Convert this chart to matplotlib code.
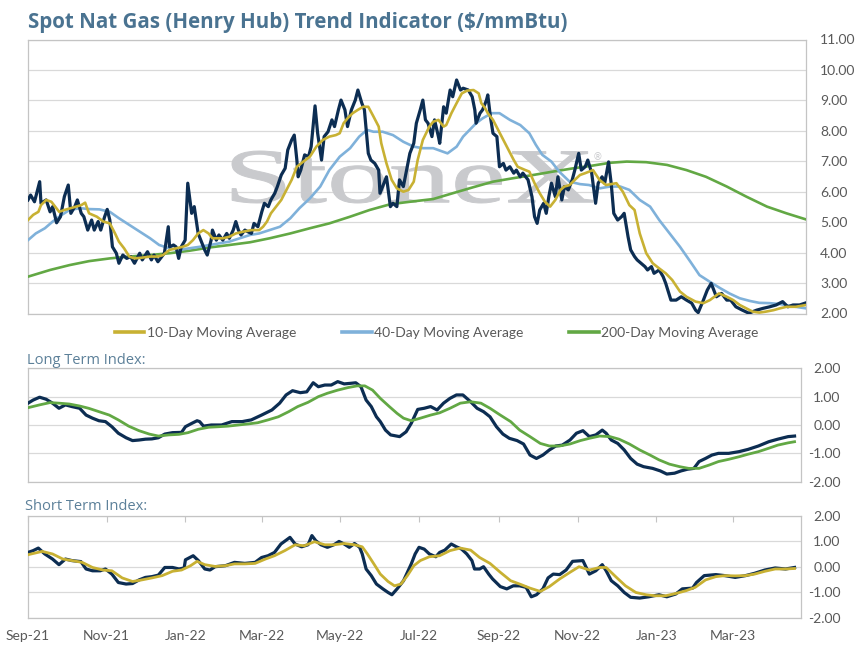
import numpy as np
import pandas as pd
import matplotlib
matplotlib.use("Agg")
import matplotlib.pyplot as plt
import matplotlib.dates as mdates
from matplotlib.textpath import TextPath
from matplotlib.patches import PathPatch
from matplotlib.font_manager import FontProperties
from matplotlib.transforms import Affine2D
from matplotlib.lines import Line2D

# ---- data (day = days after 1 Sep 2021) ----
START = pd.Timestamp("2021-09-01")
LAST_DAY = 599

spot_day = [0, 2, 5, 9, 10, 14, 17, 19, 22, 25,
            28, 31, 33, 36, 38, 41, 43, 46, 49, 51,
            54, 56, 59, 61, 63, 65, 68, 70, 73, 76,
            79, 82, 86, 88, 92, 95, 97, 100, 103, 105,
            108, 109, 112, 114, 116, 118, 121, 123, 126, 128,
            131, 133, 136, 138, 141, 142, 145, 147, 150, 153,
            155, 158, 160, 162, 164, 167, 169, 172, 174, 177,
            180, 182, 185, 187, 190, 192, 195, 198, 200, 203,
            205, 207, 208, 210, 213, 216, 218, 221, 223, 226,
            228, 231, 234, 236, 239, 241, 244, 246, 249, 252,
            254, 257, 259, 262, 264, 267, 270, 271, 273, 276,
            279, 281, 284, 286, 289, 291, 294, 297, 299, 302,
            304, 306, 308, 311, 313, 316, 317, 320, 322, 325,
            327, 330, 333, 335, 339, 342, 344, 345, 348, 350,
            353, 354, 356, 358, 361, 363, 366, 368, 371, 374,
            376, 379, 381, 385, 388, 390, 392, 394, 397, 399,
            401, 403, 406, 408, 411, 413, 416, 419, 421, 424,
            426, 429, 431, 434, 437, 439, 442, 444, 447, 449,
            451, 454, 457, 459, 462, 464, 467, 469, 472, 475,
            477, 480, 482, 486, 489, 491, 495, 499, 503, 507,
            511, 514, 516, 520, 523, 526, 530, 534, 538, 541,
            545, 550, 555, 561, 566, 571, 576, 581, 585, 589, 594, 599]
spot_val = [5.73, 5.89, 5.67, 6.33, 5.62, 5.73, 5.34, 5.51, 4.98, 5.18,
            5.84, 6.22, 5.29, 5.51, 5.73, 5.29, 5.18, 4.74, 5.07, 4.74,
            5.02, 4.74, 5.18, 5.42, 5.07, 4.19, 3.98, 3.65, 3.92, 3.81,
            3.87, 3.65, 3.98, 3.76, 4.03, 3.76, 3.92, 3.70, 3.87, 3.98,
            4.85, 4.19, 4.25, 4.19, 3.81, 4.19, 4.41, 6.28, 5.29, 5.51,
            4.63, 4.41, 4.09, 3.92, 4.41, 4.74, 4.41, 4.58, 4.41, 4.63,
            4.47, 4.74, 5.02, 4.74, 4.58, 4.74, 4.69, 4.63, 4.96, 4.85,
            5.34, 5.62, 5.51, 5.73, 5.95, 6.17, 6.55, 6.77, 7.37, 7.70,
            7.86, 7.04, 6.49, 6.71, 7.21, 7.15, 7.48, 8.82, 7.92, 7.04,
            7.81, 7.97, 8.36, 8.14, 8.69, 9.01, 8.69, 8.14, 8.69, 9.01,
            9.34, 8.91, 8.69, 7.26, 7.04, 6.93, 6.71, 5.95, 6.17, 6.49,
            5.51, 5.62, 5.51, 6.39, 6.17, 6.61, 7.26, 7.59, 8.25, 8.69,
            9.01, 8.36, 8.25, 7.81, 8.36, 7.81, 7.59, 8.79, 8.58, 9.34,
            9.12, 9.67, 9.34, 9.40, 9.34, 9.12, 8.69, 8.25, 8.58, 8.69,
            9.01, 9.18, 8.47, 7.92, 7.81, 6.82, 6.93, 6.71, 6.82, 6.61,
            6.71, 6.49, 6.61, 6.39, 5.84, 5.18, 4.96, 5.40, 5.62, 5.29,
            5.84, 6.28, 5.84, 6.49, 5.73, 6.17, 6.06, 6.39, 6.71, 7.26,
            6.71, 6.82, 7.04, 6.61, 5.62, 6.28, 6.49, 6.28, 6.98, 6.28,
            5.29, 5.07, 5.18, 5.29, 4.52, 4.09, 3.87, 3.76, 3.65, 3.54,
            3.43, 3.54, 3.32, 3.43, 3.21, 2.99, 2.44, 2.44, 2.55, 2.44,
            2.34, 2.11, 2.03, 2.44, 2.77, 2.99, 2.55, 2.66, 2.44, 2.44,
            2.22, 2.11, 2.01, 2.11, 2.17, 2.22, 2.28, 2.39, 2.22, 2.28, 2.28, 2.35]

ma10_day = [0, 4, 8, 10, 14, 18, 20, 24, 28, 33,
            37, 41, 44, 47, 53, 58, 63, 67, 70, 74,
            78, 82, 87, 94, 100, 104, 109, 114, 119, 123,
            127, 131, 135, 139, 142, 146, 150, 155, 160, 166,
            172, 178, 181, 184, 187, 191, 195, 199, 203, 207,
            212, 217, 222, 227, 232, 237, 240, 243, 246, 250,
            254, 258, 262, 266, 270, 272, 276, 280, 284, 289,
            293, 297, 300, 304, 309, 312, 316, 320, 322, 326,
            330, 334, 338, 343, 347, 349, 352, 354, 358, 362,
            366, 370, 374, 377, 383, 386, 390, 394, 398, 402,
            406, 410, 413, 417, 421, 425, 429, 435, 440, 445,
            453, 458, 463, 467, 471, 476, 481, 486, 491, 496,
            502, 507, 514, 520, 525, 532, 538, 543, 548, 553,
            558, 563, 568, 574, 579, 584, 591, 599]
ma10_val = [5.07, 5.24, 5.34, 5.56, 5.73, 5.67, 5.56, 5.34, 5.40, 5.46,
            5.51, 5.56, 5.64, 5.29, 5.18, 5.02, 4.96, 4.63, 4.36, 4.14,
            3.87, 3.81, 3.83, 3.87, 3.87, 3.92, 4.09, 4.14, 4.19, 4.25,
            4.41, 4.63, 4.74, 4.63, 4.47, 4.47, 4.47, 4.52, 4.63, 4.69,
            4.74, 4.74, 4.85, 5.02, 5.29, 5.51, 5.73, 6.06, 6.39, 6.82,
            6.99, 7.15, 7.48, 7.70, 7.81, 7.86, 7.92, 8.25, 8.41, 8.58,
            8.69, 8.79, 8.79, 8.47, 8.14, 7.59, 6.93, 6.39, 6.11, 6.00,
            6.06, 6.33, 7.04, 7.70, 8.14, 8.30, 8.36, 8.14, 8.19, 8.58,
            8.91, 9.23, 9.32, 9.34, 9.23, 8.91, 8.74, 8.58, 8.36, 8.03,
            7.70, 7.37, 7.04, 6.82, 6.71, 6.66, 6.28, 5.95, 5.67, 5.51,
            5.73, 6.06, 6.17, 6.22, 6.39, 6.55, 6.61, 6.71, 6.39, 6.22,
            6.28, 6.00, 5.56, 5.40, 4.63, 3.98, 3.65, 3.48, 3.32, 3.10,
            2.72, 2.55, 2.39, 2.34, 2.44, 2.66, 2.55, 2.44, 2.28, 2.17,
            2.06, 2.03, 2.06, 2.11, 2.17, 2.22, 2.22, 2.28]

ma40_day = [0, 6, 13, 19, 26, 32, 40, 47, 55, 63,
            70, 78, 86, 94, 101, 109, 117, 124, 132, 140,
            148, 155, 163, 171, 178, 186, 194, 202, 209, 217,
            225, 232, 240, 248, 255, 261, 266, 273, 281, 289,
            297, 304, 312, 323, 330, 335, 340, 345, 350, 357,
            363, 371, 379, 386, 391, 396, 403, 409, 417, 425,
            432, 440, 448, 456, 463, 471, 479, 486, 494, 502,
            510, 517, 525, 533, 540, 548, 556, 563, 571, 579,
            587, 594, 599]
ma40_val = [4.41, 4.63, 4.80, 5.02, 5.24, 5.40, 5.46, 5.43, 5.42, 5.34,
            5.13, 4.91, 4.69, 4.47, 4.25, 4.14, 4.09, 4.14, 4.19, 4.25,
            4.31, 4.36, 4.47, 4.58, 4.63, 4.74, 4.85, 5.13, 5.46, 5.78,
            6.17, 6.71, 7.15, 7.43, 7.81, 8.03, 7.97, 7.97, 7.86, 7.64,
            7.48, 7.43, 7.43, 7.26, 7.48, 7.81, 8.03, 8.25, 8.41, 8.58,
            8.58, 8.36, 8.19, 7.92, 7.54, 7.21, 6.99, 6.66, 6.33, 6.25,
            6.22, 6.11, 6.17, 6.17, 6.06, 5.73, 5.51, 5.07, 4.63, 4.19,
            3.70, 3.26, 3.04, 2.83, 2.66, 2.50, 2.41, 2.35, 2.34, 2.31,
            2.25, 2.20, 2.17]

ma200_day = [0, 17, 32, 47, 63, 78, 94, 109, 124, 140,
             155, 171, 186, 202, 217, 232, 248, 263, 279, 294,
             312, 327, 343, 358, 373, 389, 404, 420, 435, 448,
             461, 476, 492, 507, 522, 538, 553, 569, 584, 599]
ma200_val = [3.21, 3.43, 3.59, 3.72, 3.81, 3.87, 3.92, 3.98, 4.06, 4.17,
             4.25, 4.34, 4.47, 4.63, 4.80, 4.96, 5.18, 5.40, 5.59, 5.67,
             5.76, 5.95, 6.15, 6.33, 6.44, 6.55, 6.66, 6.77, 6.86, 6.95,
             6.99, 6.97, 6.88, 6.71, 6.49, 6.17, 5.84, 5.51, 5.29, 5.09]

# long term index
lt_day = [0, 4, 9, 14, 19, 24, 29, 34, 40, 45,
          50, 55, 60, 65, 70, 76, 81, 86, 91, 96,
          101, 106, 112, 119, 122, 127, 131, 133, 136, 142,
          150, 158, 166, 173, 181, 189, 195, 200, 205, 211,
          216, 221, 225, 230, 235, 240, 245, 250, 254, 258,
          262, 266, 270, 273, 277, 281, 288, 293, 297, 302,
          307, 312, 317, 322, 327, 332, 337, 343, 348, 353,
          358, 363, 368, 373, 379, 384, 389, 394, 399, 404,
          409, 414, 420, 425, 430, 435, 440, 445, 448, 452,
          457, 462, 467, 472, 477, 484, 490, 495, 501, 506,
          511, 516, 520, 525, 530, 535, 543, 551, 558, 566,
          574, 581, 589, 594]
lt_val = [0.77, 0.88, 0.98, 0.91, 0.77, 0.59, 0.71, 0.65, 0.59, 0.35,
          0.24, 0.15, 0.12, -0.06, -0.29, -0.45, -0.55, -0.53, -0.50, -0.49,
          -0.45, -0.32, -0.27, -0.26, -0.06, 0.06, 0.15, 0.12, -0.04, 0.00,
          0.00, 0.12, 0.12, 0.18, 0.35, 0.53, 0.77, 1.06, 1.21, 1.14,
          1.17, 1.49, 1.35, 1.41, 1.41, 1.53, 1.45, 1.47, 1.49, 1.35,
          0.88, 0.65, 0.29, 0.12, -0.18, -0.35, -0.41, -0.24, 0.06, 0.55,
          0.59, 0.65, 0.53, 0.77, 0.94, 1.06, 1.06, 0.82, 0.59, 0.47,
          0.29, -0.06, -0.32, -0.47, -0.55, -0.67, -1.06, -1.18, -1.06, -0.88,
          -0.74, -0.71, -0.53, -0.29, -0.20, -0.41, -0.35, -0.18, -0.29, -0.53,
          -0.65, -0.88, -1.18, -1.38, -1.47, -1.53, -1.62, -1.73, -1.70, -1.62,
          -1.56, -1.53, -1.29, -1.18, -1.06, -1.00, -1.00, -0.94, -0.86, -0.74,
          -0.59, -0.50, -0.41, -0.39]
lt_sig_day = [0, 9, 17, 24, 32, 40, 47, 55, 63, 70,
              78, 86, 94, 101, 109, 117, 124, 132, 140, 148,
              155, 163, 171, 178, 186, 194, 202, 209, 217, 225,
              232, 240, 248, 255, 261, 267, 273, 280, 286, 291,
              297, 304, 312, 319, 327, 335, 343, 351, 358, 366,
              374, 381, 389, 397, 404, 412, 420, 428, 435, 443,
              451, 458, 466, 474, 482, 489, 497, 505, 512, 520,
              528, 535, 543, 551, 558, 566, 574, 581, 589, 594]
lt_sig_val = [0.61, 0.71, 0.79, 0.77, 0.74, 0.67, 0.59, 0.47, 0.35, 0.18,
              -0.04, -0.20, -0.32, -0.39, -0.35, -0.33, -0.27, -0.15, -0.08, -0.06,
              -0.04, 0.00, 0.04, 0.08, 0.18, 0.29, 0.47, 0.65, 0.80, 1.00,
              1.12, 1.23, 1.32, 1.38, 1.38, 1.23, 0.94, 0.65, 0.41, 0.24,
              0.15, 0.24, 0.35, 0.43, 0.59, 0.77, 0.82, 0.77, 0.59, 0.35,
              0.12, -0.18, -0.41, -0.65, -0.74, -0.74, -0.67, -0.55, -0.47, -0.39,
              -0.41, -0.50, -0.67, -0.88, -1.06, -1.23, -1.38, -1.47, -1.53, -1.53,
              -1.41, -1.29, -1.21, -1.12, -1.03, -0.94, -0.82, -0.71, -0.63, -0.59]

# short term index
st_day = [0, 4, 8, 13, 19, 24, 29, 34, 41, 45,
          50, 56, 60, 65, 70, 76, 81, 86, 91, 96,
          101, 106, 112, 117, 121, 122, 128, 132, 137, 141,
          145, 153, 160, 168, 176, 181, 186, 191, 196, 203,
          207, 212, 217, 220, 223, 227, 232, 237, 241, 245,
          249, 253, 257, 259, 262, 266, 270, 275, 279, 282,
          286, 291, 297, 300, 303, 307, 311, 316, 319, 323,
          328, 332, 336, 340, 344, 346, 350, 353, 357, 360,
          366, 371, 376, 381, 386, 390, 394, 399, 403, 407,
          412, 417, 422, 430, 435, 440, 445, 448, 452, 457,
          462, 467, 474, 481, 489, 495, 502, 507, 515, 518,
          524, 533, 540, 548, 556, 563, 571, 579, 587, 594]
st_val = [0.56, 0.63, 0.73, 0.50, 0.30, 0.08, 0.30, 0.24, 0.20, -0.09,
          -0.16, -0.16, -0.09, -0.29, -0.62, -0.68, -0.66, -0.52, -0.42, -0.39,
          -0.33, -0.03, -0.03, -0.09, -0.05, 0.27, 0.43, 0.24, -0.09, -0.13,
          0.00, 0.04, 0.17, 0.13, 0.17, 0.36, 0.43, 0.56, 0.89, 1.15,
          0.89, 0.78, 0.86, 1.22, 1.02, 0.86, 0.76, 0.86, 0.99, 0.89,
          0.76, 0.91, 0.76, 0.50, -0.09, -0.35, -0.68, -0.87, -1.01, -1.10,
          -0.87, -0.55, 0.11, 0.50, 0.76, 0.69, 0.50, 0.39, 0.56, 0.65,
          0.89, 0.78, 0.69, 0.50, 0.24, -0.09, -0.09, 0.00, -0.29, -0.48,
          -0.78, -0.87, -0.75, -0.75, -0.81, -1.18, -1.10, -0.87, -0.44, -0.29,
          -0.31, -0.13, 0.21, 0.24, -0.29, -0.16, 0.08, -0.16, -0.55, -0.75,
          -1.01, -1.20, -1.23, -1.18, -1.10, -1.18, -1.07, -0.87, -0.84, -0.62,
          -0.35, -0.31, -0.35, -0.42, -0.35, -0.26, -0.13, -0.05, -0.09, -0.03]
st_sig_day = [0, 11, 19, 27, 34, 42, 50, 58, 65, 73,
              81, 88, 96, 104, 112, 119, 126, 131, 137, 145,
              153, 160, 168, 176, 184, 191, 199, 207, 214, 222,
              230, 237, 245, 253, 259, 263, 268, 273, 279, 284,
              289, 294, 299, 304, 311, 319, 327, 335, 343, 350,
              358, 366, 374, 381, 389, 397, 404, 412, 420, 427,
              435, 443, 448, 456, 463, 471, 479, 486, 494, 502,
              510, 517, 525, 533, 540, 548, 556, 563, 571, 579,
              587, 594]
st_sig_val = [0.47, 0.60, 0.50, 0.30, 0.24, 0.17, -0.03, -0.13, -0.16, -0.44,
              -0.58, -0.52, -0.44, -0.35, -0.18, -0.13, 0.04, 0.21, 0.08, 0.01,
              0.04, 0.11, 0.11, 0.13, 0.30, 0.43, 0.63, 0.86, 0.82, 0.98,
              0.86, 0.86, 0.91, 0.86, 0.78, 0.50, 0.11, -0.29, -0.58, -0.75,
              -0.68, -0.35, 0.04, 0.24, 0.39, 0.43, 0.63, 0.73, 0.65, 0.36,
              0.13, -0.22, -0.55, -0.68, -0.84, -0.97, -0.78, -0.48, -0.22, 0.00,
              -0.13, -0.03, -0.03, -0.42, -0.75, -1.01, -1.10, -1.14, -1.14, -1.05,
              -0.94, -0.81, -0.52, -0.39, -0.35, -0.36, -0.35, -0.29, -0.18, -0.09,
              -0.09, -0.07]

legend_labels = ["10-Day Moving Average", "40-Day Moving Average", "200-Day Moving Average"]

# ---- style ----
NAVY = "#0c2d52"
GOLD = "#c8b133"
BLUE = "#7fb1da"
GREEN = "#62a844"
GRID = "#d9d9d9"
FRAME = "#c4c4c4"
TICK = "#595959"
TITLE = "#4a7391"
SUB = "#5c8099"

plt.rcParams["font.family"] = ["Lato", "DejaVu Sans"]
plt.rcParams["axes.unicode_minus"] = False


def dates(days):
    return START + pd.to_timedelta(np.asarray(days), unit="D")


def style_axes(ax, lo, hi, right_align):
    ax.set_ylim(lo, hi)
    ax.set_yticks(np.arange(lo, hi + 0.5, 1))
    ax.yaxis.set_major_formatter(plt.FuncFormatter(lambda v, p: f"{v:.2f}"))
    ax.yaxis.tick_right()
    ax.grid(axis="y", color=GRID, lw=0.9)
    ax.set_axisbelow(True)
    for s in ax.spines.values():
        s.set_color(FRAME)
        s.set_linewidth(0.9)
    ax.set_xlim(START, START + pd.Timedelta(days=LAST_DAY))
    ax.xaxis.set_major_locator(mdates.MonthLocator(bymonth=(1, 3, 5, 7, 9, 11)))
    ax.xaxis.set_major_formatter(mdates.DateFormatter("%b-%y"))
    if right_align:
        ax.tick_params(axis="y", length=0, pad=28.5, labelsize=10, labelcolor=TICK)
        for lab in ax.get_yticklabels():
            lab.set_horizontalalignment("right")
    else:
        ax.tick_params(axis="y", length=0, pad=10, labelsize=10, labelcolor=TICK)


fig = plt.figure(figsize=(8.66, 6.48), dpi=100)
ax1 = fig.add_axes([28 / 866, 1 - 313.5 / 648, 778 / 866, 274 / 648])
ax2 = fig.add_axes([28 / 866, 1 - 481.7 / 648, 773 / 866, 113.4 / 648])
ax3 = fig.add_axes([28 / 866, 1 - 617.7 / 648, 773 / 866, 102 / 648])

# top panel
style_axes(ax1, 2, 11, False)
ax1.tick_params(axis="x", bottom=False, labelbottom=False)
ax1.plot(dates(ma200_day), ma200_val, color=GREEN, lw=1.9, zorder=3)
ax1.plot(dates(ma40_day), ma40_val, color=BLUE, lw=1.9, zorder=4)
ax1.plot(dates(spot_day), spot_val, color=NAVY, lw=2.3, zorder=5)
ax1.plot(dates(ma10_day), ma10_val, color=GOLD, lw=1.9, zorder=6)

# watermark
wm_path = TextPath((0, 0), "StoneX", size=100,
                   prop=FontProperties(family="Liberation Serif"))
bb = wm_path.get_extents()
box_x, box_y, box_w, box_h = 232, 648 - 203, 361, 52
wm_tr = (Affine2D().translate(-bb.x0, -bb.y0)
         .scale(box_w / bb.width / 866, box_h / bb.height / 648)
         .translate(box_x / 866, box_y / 648) + fig.transFigure)
ax1.add_patch(PathPatch(wm_path, transform=wm_tr, facecolor="#c9cacd",
                        edgecolor="#c9cacd", lw=0.7, zorder=1))
fig.text(598 / 866, 1 - 157.5 / 648, "\u00ae", color="#c9cacd", fontsize=7,
         ha="center", va="center", family="DejaVu Sans")

# legend
handles = [Line2D([], [], color=c, lw=2.6) for c in (GOLD, BLUE, GREEN)]
fig.legend(handles, legend_labels, loc="center", bbox_to_anchor=(437 / 866, 1 - 333 / 648),
           ncol=3, frameon=False, fontsize=10, labelcolor=TICK, handlelength=2.1,
           handletextpad=0.2, columnspacing=3.3)

# long term panel
style_axes(ax2, -2, 2, True)
ax2.tick_params(axis="x", bottom=False, labelbottom=False)
ax2.plot(dates(lt_day), lt_val, color=NAVY, lw=2.3, zorder=3)
ax2.plot(dates(lt_sig_day), lt_sig_val, color=GREEN, lw=2.0, zorder=4)

# short term panel
style_axes(ax3, -2, 2, True)
ax3.tick_params(axis="x", top=True, bottom=False, labeltop=False, labelbottom=True,
                direction="in", length=4, color=FRAME, labelsize=10,
                labelcolor=TICK, pad=9)
ax3.plot(dates(st_day), st_val, color=NAVY, lw=2.3, zorder=3)
ax3.plot(dates(st_sig_day), st_sig_val, color=GOLD, lw=2.0, zorder=4)

fig.text(28 / 866, 1 - 28 / 648, "Spot Nat Gas (Henry Hub) Trend Indicator ($/mmBtu)",
         fontsize=14.8, fontweight="bold", color=TITLE, ha="left", va="baseline",
         family=["Open Sans", "DejaVu Sans"])
fig.text(27 / 866, 1 - 360 / 648, "Long Term Index:", fontsize=10.5, color=SUB,
         ha="left", va="center", family=["Open Sans", "DejaVu Sans"])
fig.text(25 / 866, 1 - 507 / 648, "Short Term Index:", fontsize=10.5, color=SUB,
         ha="left", va="center", family=["Open Sans", "DejaVu Sans"])

fig.savefig("out.png", dpi=100)
plt.close(fig)
